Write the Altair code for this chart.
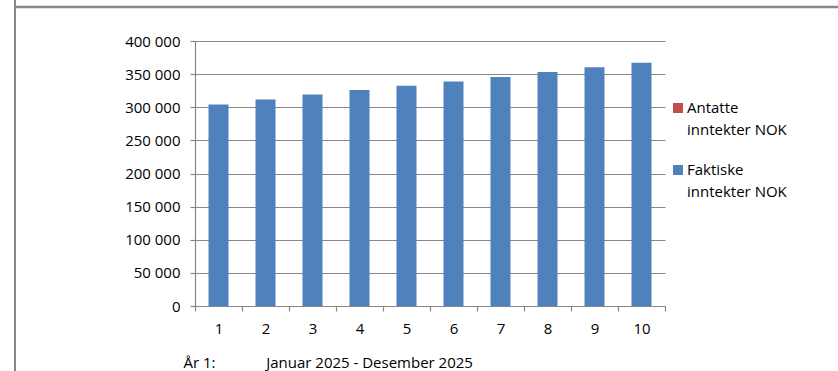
import altair as alt
import pandas as pd

months = [str(i) for i in range(1, 11)]
faktiske = [304000, 311700, 319300, 325900, 332500, 339000, 345500, 353100, 360200, 367300]
series_names = ["Antatte inntekter NOK", "Faktiske inntekter NOK"]
series_colors = ["#C0504D", "#4F81BD"]
y_ticks = [0, 50000, 100000, 150000, 200000, 250000, 300000, 350000, 400000]
period_label = "År 1:\u00a0\u00a0\u00a0\u00a0\u00a0\u00a0\u00a0\u00a0\u00a0\u00a0\u00a0\u00a0\u00a0Januar 2025 - Desember 2025"

df = pd.DataFrame({"Periode": months, "Verdi": faktiske, "Serie": series_names[1]})
legend_df = pd.DataFrame({
    "Serie": series_names,
    "Tekst": [s.replace(" ", "\n", 1) for s in series_names],
})

FONT = "Open Sans"
GRAY = "#878787"

color_scale = alt.Scale(domain=series_names, range=series_colors)

bars = alt.Chart(df).mark_bar(size=20).encode(
    x=alt.X("Periode:N", sort=months,
            scale=alt.Scale(paddingInner=0, paddingOuter=0),
            axis=alt.Axis(title=period_label, titleX=-12, titleY=61, titleAnchor="start",
                          titleAlign="left", titleBaseline="alphabetic",
                          titleFont=FONT, titleFontSize=15, titleFontWeight="normal",
                          titleColor="#000000",
                          labelAngle=0, tickBand="extent", tickSize=5, tickColor=GRAY,
                          domainColor=GRAY, domainWidth=1.2, tickWidth=1.2,
                          labelPadding=10, labelFont=FONT, labelFontSize=15,
                          labelColor="#000000", grid=False)),
    y=alt.Y("Verdi:Q", scale=alt.Scale(domain=[0, 400000], nice=False),
            axis=alt.Axis(title=None, values=y_ticks, tickSize=5, tickColor=GRAY,
                          tickWidth=1.2, domainColor=GRAY, domainWidth=1.2,
                          gridColor=GRAY, gridWidth=1.2, labelPadding=10,
                          labelFont=FONT, labelFontSize=15, labelColor="#000000",
                          labelExpr="replace(format(datum.value, ','), ',', ' ')")),
    color=alt.Color("Serie:N", scale=color_scale, legend=None),
)

legend_y = alt.Y("Serie:N", scale=alt.Scale(type="point", domain=series_names,
                                            range=[67, 129], padding=0), axis=None)

legend_sym = alt.Chart(legend_df).mark_square(size=100, opacity=1, strokeWidth=0).encode(
    x=alt.value(483), y=legend_y,
    color=alt.Color("Serie:N", scale=color_scale, legend=None))

legend_txt = alt.Chart(legend_df).mark_text(
    align="left", baseline="alphabetic", dy=5, lineBreak="\n", lineHeight=22,
    font=FONT, fontSize=15, color="#000000").encode(
    x=alt.value(492), y=legend_y, text="Tekst:N")

frame = alt.Data(values=[{}])
top_line = alt.Chart(frame).mark_rule(color=GRAY, strokeWidth=2.7).encode(
    x=alt.value(-179), x2=alt.value(650), y=alt.value(-34))
left_line = alt.Chart(frame).mark_rule(color=GRAY, strokeWidth=2).encode(
    x=alt.value(-180), y=alt.value(-45), y2=alt.value(335))

chart = alt.layer(bars, legend_sym, legend_txt, top_line, left_line).resolve_scale(
    y="independent"
).properties(
    width=470, height=265,
    autosize=alt.AutoSizeParams(type="none"),
    padding={"left": 195, "top": 41, "right": 173, "bottom": 65},
    background="#ffffff",
).configure_view(stroke=None)

chart.save("out.html", embed_options={"renderer": "svg", "actions": False})
